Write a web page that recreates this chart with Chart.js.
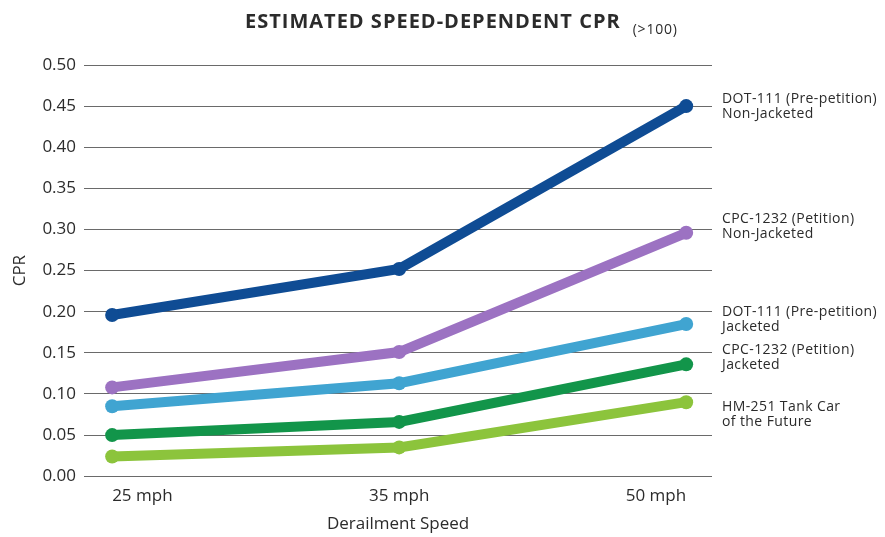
<!DOCTYPE html>
<html>
<head>
<meta charset="utf-8">
<script src="https://cdn.jsdelivr.net/npm/chart.js@4/dist/chart.umd.min.js"></script>
<style>
  html, body { margin: 0; padding: 0; background: #fff; }
  #wrap { width: 885px; height: 537px; }
</style>
</head>
<body>
<div id="wrap"><canvas id="cprChart"></canvas></div>
<script>
const speeds = ['25 mph', '35 mph', '50 mph'];
const yTicks = [0, 0.05, 0.10, 0.15, 0.20, 0.25, 0.30, 0.35, 0.40, 0.45, 0.50];

const dot111NonJacketed = [0.196, 0.252, 0.450];
const cpc1232NonJacketed = [0.108, 0.151, 0.296];
const dot111Jacketed = [0.085, 0.113, 0.185];
const cpc1232Jacketed = [0.050, 0.066, 0.136];
const hm251 = [0.024, 0.035, 0.090];

const seriesNames = [
    ['DOT-111 (Pre-petition)', 'Non-Jacketed'],
    ['CPC-1232 (Petition)', 'Non-Jacketed'],
    ['DOT-111 (Pre-petition)', 'Jacketed'],
    ['CPC-1232 (Petition)', 'Jacketed'],
    ['HM-251 Tank Car', 'of the Future']
];
const seriesColors = ['#0f4c94', '#9c72c2', '#40a4d1', '#12954a', '#8cc43c'];
const seriesData = [dot111NonJacketed, cpc1232NonJacketed, dot111Jacketed, cpc1232Jacketed, hm251];

// nudge for the right-hand labels so they don't collide (px)
const labelNudge = [0, -7, -5, -7, 12];

const FONT = '"Open Sans", "Noto Sans", sans-serif';

const endLabels = {
    id: 'endLabels',
    afterDatasetsDraw(chart) {
        const ctx = chart.ctx;
        ctx.save();
        ctx.font = '14px ' + FONT;
        ctx.letterSpacing = '0.4px';
        ctx.fillStyle = '#2b2b2b';
        ctx.textBaseline = 'middle';
        ctx.textAlign = 'left';
        chart.data.datasets.forEach((ds, i) => {
            const meta = chart.getDatasetMeta(i);
            const last = meta.data[meta.data.length - 1];
            const y = last.y + labelNudge[i];
            ctx.fillText(seriesNames[i][0], chart.chartArea.right + 10, y - 7);
            ctx.fillText(seriesNames[i][1], chart.chartArea.right + 10, y + 8);
        });
        ctx.restore();
    }
};

const titlePlugin = {
    id: 'titlePlugin',
    afterDraw(chart) {
        const ctx = chart.ctx;
        ctx.save();
        ctx.fillStyle = '#2b2b2b';
        ctx.textBaseline = 'alphabetic';
        ctx.textAlign = 'left';
        const main = 'ESTIMATED SPEED-DEPENDENT CPR';
        ctx.font = 'bold 20px ' + FONT;
        ctx.letterSpacing = '1px';
        const w = ctx.measureText(main).width;
        const x = 245;
        ctx.fillText(main, x, 28);
        ctx.font = '14px ' + FONT;
        ctx.letterSpacing = '0.8px';
        ctx.fillText('(>100)', x + w + 12, 34);
        ctx.restore();
    }
};

new Chart(document.getElementById('cprChart'), {
    type: 'line',
    data: {
        datasets: seriesData.map((vals, i) => ({
            label: seriesNames[i].join(' '),
            data: vals.map((v, j) => ({ x: j, y: v })),
            borderColor: seriesColors[i],
            backgroundColor: seriesColors[i],
            borderWidth: 10,
            pointRadius: 7,
            pointBorderWidth: 0,
            tension: 0,
            fill: false
        }))
    },
    options: {
        responsive: true,
        maintainAspectRatio: false,
        animation: false,
        layout: { padding: { top: 65, right: 173, left: 2, bottom: 0 } },
        scales: {
            x: {
                type: 'linear',
                min: -0.098,
                max: 2.09,
                afterBuildTicks: axis => { axis.ticks = speeds.map((s, i) => ({ value: i })); },
                ticks: {
                    callback: (v) => speeds[v],
                    font: { size: 17, family: FONT },
                    color: '#2b2b2b',
                    padding: 10,
                    align: 'inner',
                    maxRotation: 0
                },
                grid: { display: false, drawTicks: false },
                border: { display: false },
                title: {
                    display: true,
                    text: 'Derailment Speed',
                    font: { size: 17, family: FONT },
                    color: '#2b2b2b',
                    padding: { top: -3, bottom: 3 }
                }
            },
            y: {
                min: 0,
                max: 0.5,
                afterBuildTicks: axis => { axis.ticks = yTicks.map(v => ({ value: v })); },
                ticks: {
                    callback: v => v.toFixed(2),
                    font: { size: 17, family: FONT },
                    color: '#2b2b2b',
                    padding: 8
                },
                grid: { color: '#6a6a6a', lineWidth: 1, drawTicks: false },
                border: { display: false },
                title: {
                    display: true,
                    text: 'CPR',
                    font: { size: 17, family: FONT },
                    color: '#2b2b2b',
                    padding: { top: 8, bottom: 4 }
                }
            }
        },
        plugins: {
            legend: { display: false },
            tooltip: { enabled: false }
        }
    },
    plugins: [endLabels, titlePlugin]
});
</script>
</body>
</html>
